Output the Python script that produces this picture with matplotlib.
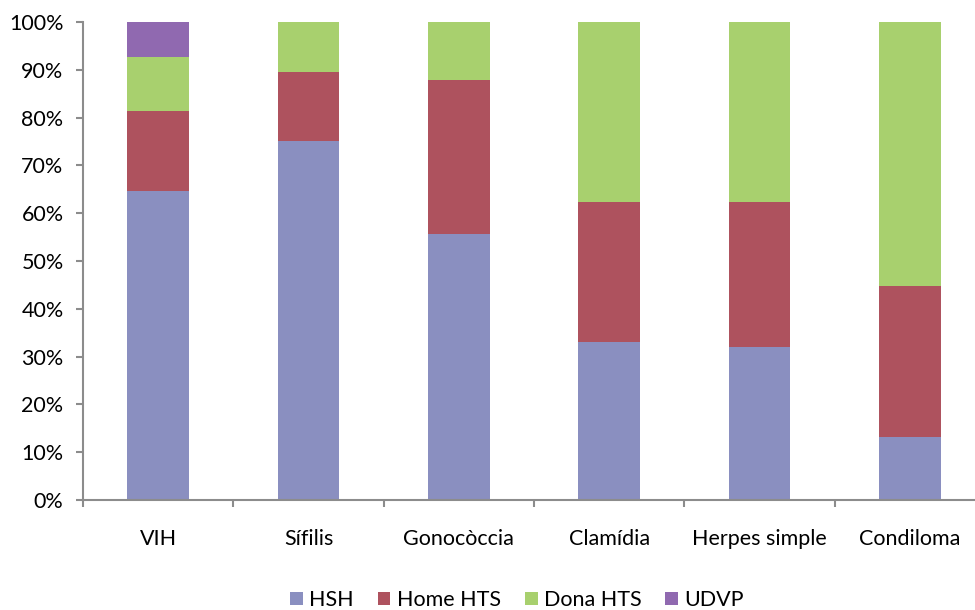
import numpy as np
import matplotlib.pyplot as plt

plt.rcParams['font.family'] = ['Lato', 'DejaVu Sans']

categories = ['VIH', 'Sífilis', 'Gonocòccia', 'Clamídia', 'Herpes simple', 'Condiloma']
series = ['HSH', 'Home HTS', 'Dona HTS', 'UDVP']
hsh = [64.6, 75.1, 55.6, 33.1, 32.0, 13.2]
home_hts = [16.8, 14.4, 32.3, 29.2, 30.3, 31.6]
dona_hts = [11.3, 10.5, 12.1, 37.7, 37.7, 55.2]
udvp = [7.3, 0, 0, 0, 0, 0]
colors = ['#8A8FC0', '#AE525E', '#A8D06E', '#9069B0']

fig = plt.figure(figsize=(9.75, 6.1), dpi=100)
ax = fig.add_axes([83 / 975, 1 - 500 / 610, 902 / 975, 478 / 610])

x = np.arange(len(categories))
bottom = np.zeros(len(categories))
for name, vals, c in zip(series, [hsh, home_hts, dona_hts, udvp], colors):
    vals = np.array(vals)
    ax.bar(x, vals, 0.41, bottom=bottom, color=c, label=name, linewidth=0)
    bottom += vals

ax.set_xlim(-0.5, 5.5)
ax.set_ylim(0, 100)
ax.set_yticks(np.arange(0, 101, 10))
ax.set_yticklabels([f'{v}%' for v in range(0, 101, 10)])
ax.set_xticks(x)
ax.set_xticklabels(categories)
ax.set_xticks(np.arange(-0.5, 6, 1), minor=True)

grey = '#8C8C8C'
for s in ['top', 'right']:
    ax.spines[s].set_visible(False)
for s in ['left', 'bottom']:
    ax.spines[s].set_color(grey)
    ax.spines[s].set_linewidth(1.5)

ax.tick_params(axis='y', length=5, width=1.5, color=grey, labelsize=15.5, pad=9)
ax.tick_params(axis='x', which='major', length=0, labelsize=15.5, pad=21)
ax.tick_params(axis='x', which='minor', length=5, width=1.5, color=grey)

fig.legend(loc='center', bbox_to_anchor=(517 / 975, 10 / 610), ncol=4, frameon=False,
           fontsize=15.5, handlelength=0.6, handleheight=0.6, handletextpad=0.3,
           columnspacing=1.1)

fig.savefig('out.png', dpi=100)
